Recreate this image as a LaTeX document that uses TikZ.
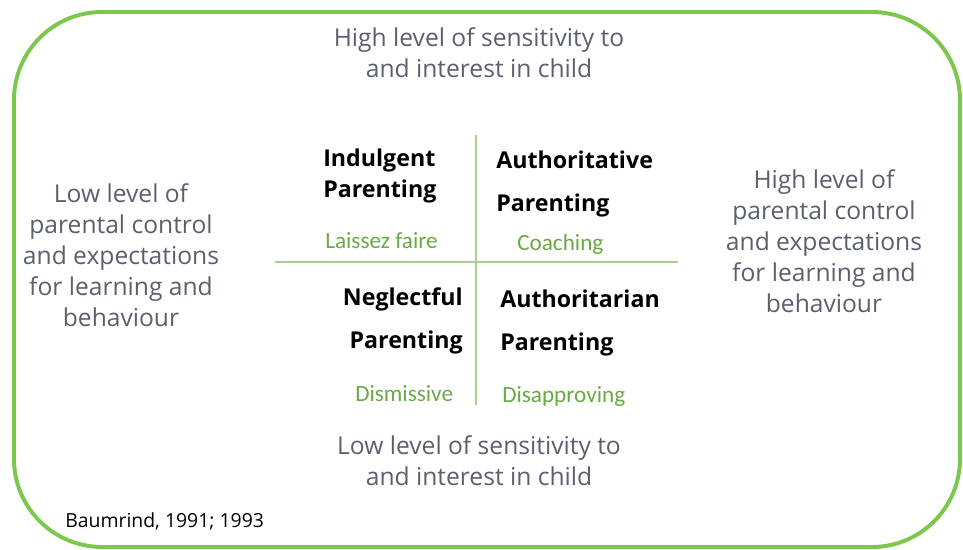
\documentclass[tikz,border=0pt]{standalone}
\usepackage{fontspec}
\setmainfont{Open Sans}
\newfontfamily\tonefont{Carlito}
\usepackage{tikz}
\usetikzlibrary{positioning}
\definecolor{framegreen}{HTML}{7CC84E}
\definecolor{axisgreen}{HTML}{A9D18E}
\definecolor{tonegreen}{HTML}{6AAA45}
\definecolor{dimgray}{HTML}{5B606E}

\begin{document}
\begin{tikzpicture}[
  x=0.025cm, y=-0.025cm,
  every node/.style={inner sep=0pt},
  frame/.style={draw=framegreen, line width=2.8pt, rounded corners=2.2cm},
  axis/.style={draw=axisgreen, line width=1.3pt},
  dimension/.style={text=dimgray, align=center, font=\fontsize{17.5}{22}\selectfont},
  parenting/.style={font=\fontsize{16.5}{22}\selectfont\bfseries},
  tone/.style={text=tonegreen, anchor=west, font=\tonefont\fontsize{16.5}{19}\selectfont},
  source/.style={anchor=west, font=\fontsize{13.8}{16}\selectfont}
]
\fill[white] (0,0) rectangle (963,550);
\draw[frame] (14,12) rectangle (960,547);

% the two axes of the grid
\coordinate (vtop) at (476,135);
\coordinate (vbot) at (476,405);
\coordinate (hleft) at (275,262);
\coordinate (hright) at (678,262);
\draw[axis] (vtop) -- (vbot);
\draw[axis] (hleft) -- (hright);

% axis descriptions
\node[dimension] (senshigh) at (479,53) {High level of sensitivity to\\and interest in child};
\node[dimension] (senslow) at (479,461) {Low level of sensitivity to\\and interest in child};
\node[dimension] (ctrllow) at (121,255) {Low level of\\parental control\\and expectations\\for learning and\\behaviour};
\node[dimension] (ctrlhigh) at (824,241) {High level of\\parental control\\and expectations\\for learning and\\behaviour};

% the four styles
\node[parenting, anchor=west, align=left] (indulgent) at (323,176) {Indulgent\\Parenting};
\node[parenting, anchor=west, align=left] (authoritative) at (496,184) {Authoritative\\[9pt]Parenting};
\node[parenting, anchor=east, align=right] (neglectful) at (463,321) {Neglectful\\[9pt]Parenting};
\node[parenting, anchor=west, align=left] (authoritarian) at (500,323) {Authoritarian\\[9pt]Parenting};

\node[tone] (laissez) at (325,241) {Laissez faire};
\node[tone] (coaching) at (517,244) {Coaching};
\node[tone] (dismissive) at (355,394) {Dismissive};
\node[tone] (disapproving) at (502,397) {Disapproving};

\node[source] (baumrind) at (65,521) {Baumrind, 1991; 1993};
\end{tikzpicture}
\end{document}
